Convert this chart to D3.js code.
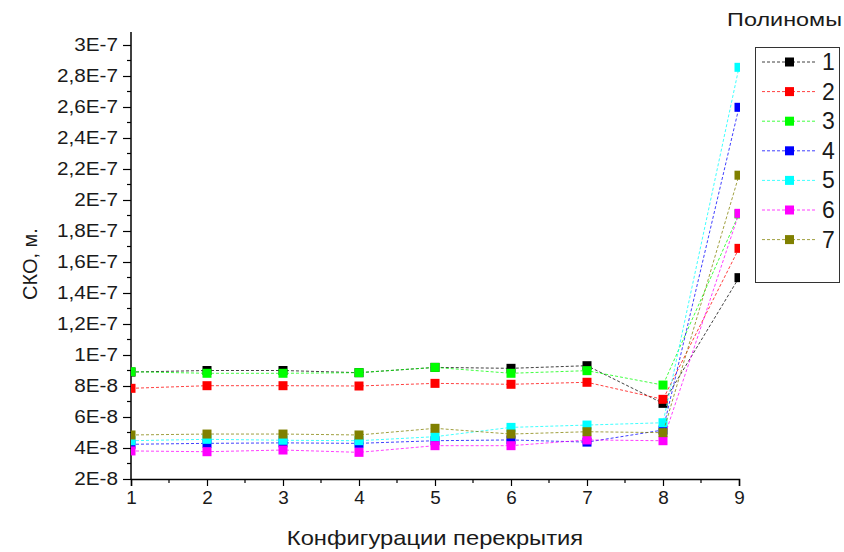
<!DOCTYPE html>
<html>
<head>
<meta charset="utf-8">
<script src="https://cdn.jsdelivr.net/npm/d3@7"></script>
<style>
  body { margin: 0; background: #fff; }
  svg { font-family: "Liberation Sans", Arial, sans-serif; }
</style>
</head>
<body>
<svg id="chart" width="844" height="552"></svg>
<script>
var configs = [1, 2, 3, 4, 5, 6, 7, 8, 9];
var seriesNames = ["1", "2", "3", "4", "5", "6", "7"];
var seriesColors = ["#000000", "#ff0000", "#00ff00", "#0000ff", "#00ffff", "#ff00ff", "#808000"];
// values in units of 1E-8 m
var s1 = [8.90, 9.00, 9.00, 8.86, 9.20, 9.14, 9.31, 6.88, 14.99];
var s2 = [7.85, 8.02, 8.02, 8.00, 8.17, 8.11, 8.24, 7.14, 16.88];
var s3 = [8.92, 8.82, 8.82, 8.86, 9.20, 8.82, 8.99, 8.06, 19.10];
var s4 = [4.24, 4.30, 4.33, 4.30, 4.47, 4.52, 4.38, 5.16, 25.98];
var s5 = [4.47, 4.56, 4.50, 4.47, 4.73, 5.33, 5.48, 5.63, 28.56];
var s6 = [3.81, 3.76, 3.87, 3.72, 4.15, 4.15, 4.52, 4.47, 19.14];
var s7 = [4.84, 4.90, 4.90, 4.84, 5.27, 4.90, 5.05, 4.99, 21.60];
var yTicks = [2e-8, 4e-8, 6e-8, 8e-8, 1e-7, 1.2e-7, 1.4e-7, 1.6e-7, 1.8e-7, 2e-7, 2.2e-7, 2.4e-7, 2.6e-7, 2.8e-7, 3e-7];
var allSeries = [s1, s2, s3, s4, s5, s6, s7];

var svg = d3.select("#chart");
var pLeft = 131, pRight = 739, pTop = 45, pBottom = 479;

var x = d3.scaleLinear().domain([1, 9]).range([pLeft, pRight]);
var y = d3.scaleLinear().domain([2e-8, 3e-7]).range([pBottom, pTop]);

function fmt(v) {
  var e = Math.floor(Math.log10(v) + 1e-9);
  var m = Math.round(v / Math.pow(10, e) * 10) / 10;
  return String(m).replace(".", ",") + "E" + e;
}

// the original font is a bit wider than Liberation Sans
function widen(sel, k) {
  sel.each(function() {
    var w = this.getComputedTextLength();
    d3.select(this).attr("textLength", w * k).attr("lengthAdjust", "spacingAndGlyphs");
  });
}

// minor ticks
var yMinor = d3.range(3, 31, 2).map(function(d) { return d * 1e-8; });
svg.append("g").selectAll("line").data(yMinor).enter().append("line")
  .attr("x1", pLeft - 4).attr("x2", pLeft)
  .attr("y1", function(d) { return y(d); }).attr("y2", function(d) { return y(d); })
  .attr("stroke", "#000").attr("stroke-width", 1.2);
var xMinor = d3.range(1.5, 9, 1);
svg.append("g").selectAll("line").data(xMinor).enter().append("line")
  .attr("y1", pBottom).attr("y2", pBottom + 4)
  .attr("x1", function(d) { return x(d); }).attr("x2", function(d) { return x(d); })
  .attr("stroke", "#000").attr("stroke-width", 1.2);

var yAxis = d3.axisLeft(y).tickValues(yTicks).tickFormat(fmt).tickSizeOuter(0).tickSize(8).tickPadding(5);
var xAxis = d3.axisBottom(x).tickValues(configs).tickFormat(d3.format("d")).tickSizeOuter(0).tickSize(7).tickPadding(5);

var gy = svg.append("g").attr("transform", "translate(" + pLeft + ",0)").call(yAxis);
gy.select(".domain").remove();
svg.append("line").attr("x1", pLeft).attr("x2", pLeft).attr("y1", 32).attr("y2", pBottom)
  .attr("stroke", "#000").attr("stroke-width", 1.5);
var gx = svg.append("g").attr("transform", "translate(0," + pBottom + ")").call(xAxis);
gx.select(".domain").attr("stroke-width", 1.5);
svg.selectAll(".tick line").attr("stroke-width", 1.2);
svg.selectAll(".tick text").attr("font-size", 18).attr("font-family", "Liberation Sans, Arial, sans-serif").attr("fill", "#1a1a1a");
widen(gy.selectAll(".tick text"), 1.15);
widen(gx.selectAll(".tick text"), 1.05);

svg.append("text").attr("x", 435).attr("y", 545).attr("text-anchor", "middle")
  .attr("font-size", 21).attr("fill", "#1a1a1a").text("Конфигурации перекрытия")
  .call(widen, 1.13);
svg.append("text").attr("transform", "translate(37,264) rotate(-90)").attr("text-anchor", "middle")
  .attr("font-size", 20).attr("fill", "#1a1a1a").text("СКО, м.");

svg.append("clipPath").attr("id", "plotclip").append("rect")
  .attr("x", pLeft).attr("y", 0).attr("width", pRight - pLeft + 1).attr("height", pBottom);

var plot = svg.append("g").attr("clip-path", "url(#plotclip)");
var line = d3.line().x(function(d, i) { return x(configs[i]); }).y(function(d) { return y(d * 1e-8); });
var ms = 9;

allSeries.forEach(function(vals, k) {
  var g = plot.append("g");
  g.append("path").datum(vals).attr("d", line).attr("fill", "none")
    .attr("stroke", seriesColors[k]).attr("stroke-width", 1).attr("stroke-dasharray", "3,2")
    .attr("stroke-opacity", 0.75);
  g.selectAll("rect").data(vals).enter().append("rect")
    .attr("x", function(d, i) { return x(configs[i]) - ms / 2; })
    .attr("y", function(d) { return y(d * 1e-8) - ms / 2; })
    .attr("width", ms).attr("height", ms).attr("fill", seriesColors[k]);
});

// legend
svg.append("text").attr("x", 842).attr("y", 26).attr("text-anchor", "end")
  .attr("font-size", 18).attr("fill", "#1a1a1a").text("Полиномы")
  .call(widen, 1.3);
svg.append("rect").attr("x", 755.5).attr("y", 47.5).attr("width", 84).attr("height", 235)
  .attr("fill", "none").attr("stroke", "#333").attr("stroke-width", 1);
var leg = svg.append("g").selectAll("g").data(seriesNames).enter().append("g")
  .attr("transform", function(d, i) { return "translate(0," + (62 + i * 29.6) + ")"; });
leg.append("line").attr("x1", 762).attr("x2", 817).attr("y1", 0).attr("y2", 0)
  .attr("stroke", function(d, i) { return seriesColors[i]; }).attr("stroke-dasharray", "3,2")
  .attr("stroke-opacity", 0.75);
leg.append("rect").attr("x", 785).attr("y", -4.5).attr("width", 9).attr("height", 9)
  .attr("fill", function(d, i) { return seriesColors[i]; });
leg.append("text").attr("x", 822).attr("y", 8).attr("font-size", 23).attr("fill", "#1a1a1a")
  .text(function(d) { return d; });
</script>
</body>
</html>
